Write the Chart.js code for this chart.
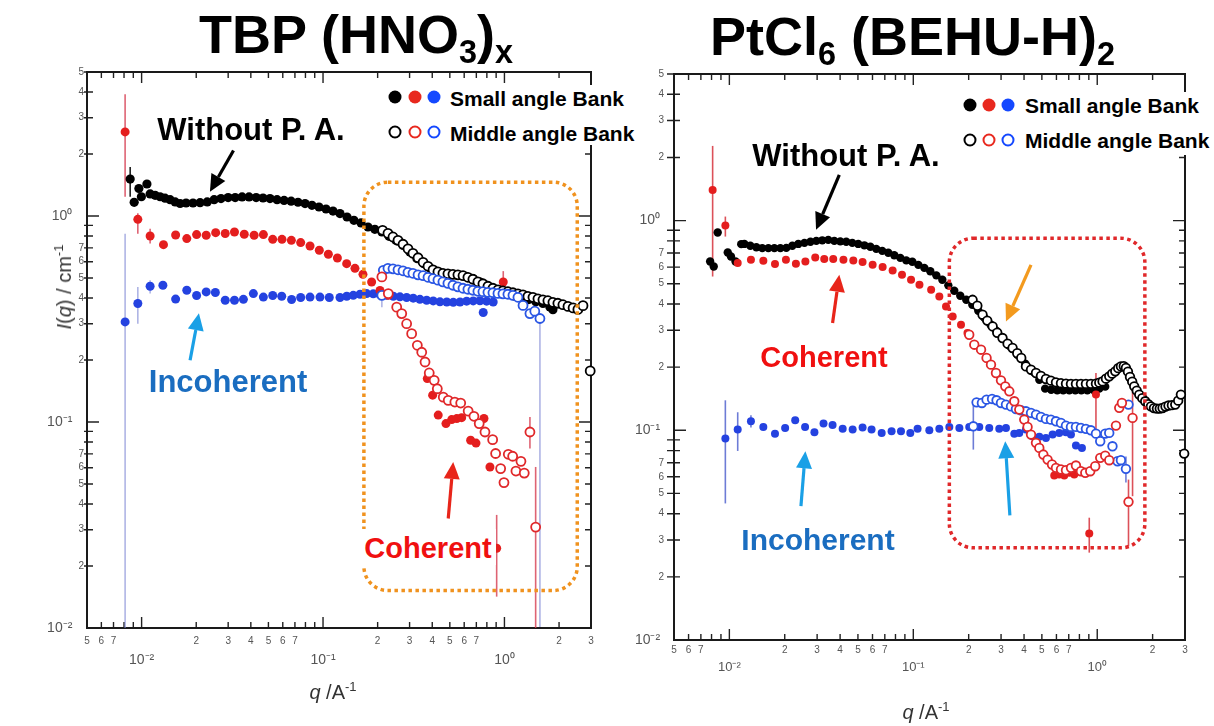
<!DOCTYPE html>
<html><head><meta charset="utf-8">
<script src="https://cdn.jsdelivr.net/npm/chart.js@4.4.1/dist/chart.umd.min.js"></script>
<style>
html,body{margin:0;padding:0;background:#fff;}
#wrap{position:relative;width:1214px;height:726px;overflow:hidden;font-family:'Liberation Sans',Arial,sans-serif;background:#fff;}
canvas{position:absolute;left:0;top:0;}
.title{position:absolute;font-weight:bold;font-size:54px;line-height:1;white-space:nowrap;color:#000;}
.title sub{font-size:0.6em;line-height:0;vertical-align:-0.3em;}
.t{position:absolute;white-space:nowrap;line-height:1;transform:translate(-50%,-50%);font-weight:bold;}
.lg{position:absolute;white-space:nowrap;line-height:1;transform:translateY(-50%);font-weight:bold;font-size:21px;color:#000;}
.lgbg{position:absolute;background:#fff;}
.d{position:absolute;width:13px;height:13px;border-radius:50%;transform:translate(-50%,-50%);box-sizing:border-box;}
.o{border:2.8px solid #000;background:#fff;}
.ax{position:absolute;white-space:nowrap;line-height:1;transform:translate(-50%,-50%);font-size:20px;color:#333;}
.ax sup{font-size:0.65em;line-height:0;}
</style></head><body>
<div id="wrap">
<canvas id="c1" width="1214" height="726"></canvas>
<canvas id="c2" width="1214" height="726"></canvas>

<div class="title" style="left:199px;top:7px">TBP (HNO<sub>3</sub>)<sub>x</sub></div>
<div class="title" style="left:710px;top:9px">PtCl<sub>6</sub> (BEHU-H)<sub>2</sub></div>

<!-- left legend -->
<div class="lgbg" style="left:386px;top:85px;width:254px;height:60px"></div>
<div class="d" style="left:395px;top:97px;background:#000"></div>
<div class="d" style="left:415px;top:97px;background:#E8281E"></div>
<div class="d" style="left:434px;top:97px;background:#1448FF"></div>
<div class="lg" style="left:450px;top:98px">Small angle Bank</div>
<div class="d o" style="left:395px;top:132px;border-color:#000"></div>
<div class="d o" style="left:415px;top:132px;border-color:#E8281E"></div>
<div class="d o" style="left:434px;top:132px;border-color:#1448FF"></div>
<div class="lg" style="left:450px;top:133px">Middle angle Bank</div>

<!-- right legend -->
<div class="lgbg" style="left:961px;top:92px;width:253px;height:63px"></div>
<div class="d" style="left:970px;top:105px;background:#000"></div>
<div class="d" style="left:989px;top:105px;background:#E8281E"></div>
<div class="d" style="left:1008px;top:105px;background:#1448FF"></div>
<div class="lg" style="left:1025px;top:105px">Small angle Bank</div>
<div class="d o" style="left:970px;top:140px;border-color:#000"></div>
<div class="d o" style="left:989px;top:140px;border-color:#E8281E"></div>
<div class="d o" style="left:1008px;top:140px;border-color:#1448FF"></div>
<div class="lg" style="left:1025px;top:140px">Middle angle Bank</div>

<!-- annotations left -->
<div class="t" style="left:251px;top:129px;font-size:31px;color:#000">Without P. A.</div>
<div class="t" style="left:228px;top:381px;font-size:31px;color:#1A6DC0">Incoherent</div>
<div style="position:absolute;left:362px;top:529px;width:134px;height:36px;background:#fff;"></div>
<div class="t" style="left:428px;top:548px;font-size:29px;color:#F01010">Coherent</div>

<!-- annotations right -->
<div class="t" style="left:846px;top:155px;font-size:31px;color:#000">Without P. A.</div>
<div class="t" style="left:824px;top:357px;font-size:29px;color:#F01010">Coherent</div>
<div class="t" style="left:818px;top:540px;font-size:30px;color:#1A6DC0">Incoherent</div>

<!-- axis titles -->
<div class="ax" style="left:333px;top:692px"><i>q</i> /A<sup>-1</sup></div>
<div class="ax" style="left:926px;top:712px"><i>q</i> /A<sup>-1</sup></div>
<div class="ax" style="left:64px;top:287px;transform:translate(-50%,-50%) rotate(-90deg);font-size:20px"><i>I</i>(<i>q</i>) / cm<sup>-1</sup></div>
</div>

<script>
// ---------------- tick values / labels ----------------
const xTicks = [0.005,0.006,0.007,0.008,0.009,0.01,0.02,0.03,0.04,0.05,0.06,0.07,0.08,0.09,0.1,0.2,0.3,0.4,0.5,0.6,0.7,0.8,0.9,1,2,3];
const xTickLabels = ['5','6','7','','','10\u207B\u00B2','2','3','4','5','6','7','','','10\u207B\u00B9','2','3','4','5','6','7','','','10\u2070','2','3'];
const yTicks = [0.01,0.02,0.03,0.04,0.05,0.06,0.07,0.08,0.09,0.1,0.2,0.3,0.4,0.5,0.6,0.7,0.8,0.9,1,2,3,4,5];
const yTickLabels = ['10\u207B\u00B2','2','3','4','5','6','7','','','10\u207B\u00B9','2','3','4','5','6','7','','','10\u2070','2','3','4','5'];

// ---------------- TBP (HNO3)x : [q, I] ----------------
const tbpBlackSmall = [[0.00865,1.51],[0.0091,1.165],[0.00966,1.36],[0.00997,1.24],[0.0107,1.43],
[0.01114,1.28],[0.01187,1.26],[0.01264,1.24],[0.01346,1.22],[0.01435,1.20],[0.0153,1.17],[0.0163,1.15],[0.01758,1.156],[0.0192,1.156],[0.021,1.16],[0.023,1.17],[0.0251,1.2],[0.0274,1.215],[0.03,1.228],[0.0328,1.228],[0.0358,1.237],[0.0391,1.237],[0.0428,1.228],[0.0467,1.223],[0.051,1.215],[0.0558,1.2],[0.061,1.19],[0.0667,1.18],[0.0728,1.166],[0.0796,1.149],[0.0869,1.127],[0.095,1.106],[0.1039,1.081],[0.1135,1.057],[0.124,1.027],[0.1356,0.989],[0.148,0.953],[0.162,0.925],[0.177,0.884],[0.193,0.862],[0.211,0.836],[0.231,0.797],[0.252,0.762],[0.2755,0.721],[0.301,0.669],[0.329,0.621],[0.36,0.587],[0.393,0.555],[0.43,0.535],[0.47,0.525],[0.514,0.519],[0.561,0.515],[0.614,0.51],[0.67,0.497],[0.733,0.478],[0.8,0.461],[0.875,0.444],[0.956,0.428],[1.045,0.417],[1.14,0.408],[1.25,0.402],[1.36,0.393],[1.49,0.383],[1.63,0.376],[1.78,0.362],[1.85,0.351]];
const tbpBlackMid = [[0.213,0.852],[0.228,0.824],[0.243,0.791],[0.259,0.762],[0.276,0.729],[0.294,0.693],[0.313,0.659],[0.334,0.627],[0.356,0.596],[0.379,0.57],[0.404,0.548],[0.43,0.536],[0.458,0.527],[0.488,0.524],[0.52,0.521],[0.554,0.518],[0.591,0.513],[0.629,0.504],[0.67,0.493],[0.714,0.479],[0.761,0.469],[0.811,0.456],[0.864,0.446],[0.921,0.438],[0.981,0.433],[1.045,0.429],[1.114,0.424],[1.187,0.419],[1.265,0.414],[1.347,0.407],[1.436,0.403],[1.53,0.396],[1.63,0.392],[1.736,0.388],[1.85,0.381],[1.97,0.377],[2.1,0.371],[2.24,0.364],[2.39,0.358],[2.54,0.352],[2.71,0.367],[2.97,0.177]];
const tbpRedSmall = [[0.00811,2.56],[0.00953,0.963],[0.01114,0.80],[0.0132,0.726],[0.0154,0.809],[0.01774,0.777],[0.0201,0.812],[0.0227,0.806],[0.0256,0.83],[0.0289,0.822],[0.0325,0.836],[0.0368,0.815],[0.0417,0.806],[0.0469,0.812],[0.0528,0.77],[0.0594,0.77],[0.0669,0.762],[0.0753,0.743],[0.0848,0.715],[0.0954,0.682],[0.107,0.652],[0.12,0.625],[0.135,0.587],[0.15,0.557],[0.166,0.521],[0.1853,0.478],[0.206,0.435],[0.229,0.412],[0.3755,0.1625],[0.402,0.135],[0.4315,0.108],[0.476,0.0982],[0.512,0.1027],[0.546,0.1039],[0.581,0.105],[0.651,0.0815],[0.697,0.079],[0.771,0.104],[0.832,0.0605],[0.906,0.0244],[0.985,0.478]];
const tbpRedMid = [[0.211,0.506],[0.229,0.42],[0.2548,0.361],[0.2715,0.336],[0.289,0.30],[0.308,0.2685],[0.331,0.2357],[0.35,0.218],[0.365,0.1955],[0.385,0.173],[0.41,0.1593],[0.4265,0.145],[0.46,0.132],[0.49,0.1274],[0.533,0.125],[0.574,0.1236],[0.631,0.113],[0.679,0.1066],[0.726,0.0982],[0.781,0.0894],[0.861,0.0821],[0.894,0.0703],[0.953,0.0594],[0.994,0.0508],[1.05,0.0697],[1.11,0.0682],[1.157,0.0578],[1.233,0.0644],[1.286,0.0565],[1.382,0.0894],[1.486,0.0309]];
const tbpBlueSmall = [[0.00811,0.306],[0.00953,0.376],[0.01114,0.456],[0.0131,0.461],[0.0154,0.395],[0.01774,0.436],[0.0201,0.411],[0.0227,0.428],[0.0255,0.425],[0.0289,0.39],[0.0325,0.39],[0.0364,0.394],[0.0413,0.42],[0.0469,0.404],[0.0528,0.411],[0.0592,0.408],[0.0671,0.393],[0.0753,0.402],[0.0848,0.404],[0.0962,0.404],[0.1083,0.402],[0.124,0.402],[0.1351,0.408],[0.1468,0.412],[0.16,0.417],[0.174,0.42],[0.1892,0.419],[0.206,0.415],[0.2244,0.412],[0.244,0.408],[0.2655,0.405],[0.289,0.402],[0.3144,0.399],[0.342,0.394],[0.3726,0.39],[0.405,0.387],[0.441,0.383],[0.481,0.3825],[0.5224,0.381],[0.569,0.3825],[0.6189,0.386],[0.673,0.387],[0.733,0.388],[0.764,0.34],[0.798,0.386],[0.867,0.3825]];
const tbpBlueMid = [[0.211,0.412],[0.215,0.545],[0.228,0.557],[0.243,0.554],[0.259,0.548],[0.276,0.542],[0.294,0.533],[0.313,0.527],[0.334,0.518],[0.356,0.513],[0.379,0.504],[0.404,0.496],[0.43,0.488],[0.458,0.479],[0.488,0.471],[0.52,0.461],[0.554,0.453],[0.591,0.446],[0.629,0.441],[0.67,0.436],[0.714,0.431],[0.761,0.429],[0.811,0.426],[0.864,0.424],[0.921,0.421],[0.981,0.419],[1.045,0.417],[1.114,0.412],[1.187,0.403],[1.266,0.368],[1.382,0.336],[1.47,0.345],[1.569,0.318]];
// error bars: [q, low, high]
const tbpErrBlack = [[0.00865,1.24,1.73]];
const tbpErrRed = [[0.00811,1.24,3.9],[0.00953,0.82,1.03],[0.01114,0.735,0.866],[0.906,0.0142,0.0354],[0.985,0.43,0.54],[1.382,0.0743,0.1058],[1.486,0.005,0.0605]];
const tbpErrBlue = [[0.00811,0.005,0.82],[0.00953,0.30,0.452],[0.01114,0.42,0.487],[0.211,0.361,0.45],[1.569,0.0101,0.33]];

// ---------------- PtCl6 (BEHU-H)2 : [q, I] ----------------
const ptBlackSmall = [[0.00786,0.638],[0.00822,0.604],[0.00864,0.877],[0.0098,0.705],[0.0102,0.674],[0.0108,0.638],[0.0116,0.772],[0.01207,0.774],[0.013,0.758],[0.01402,0.746],[0.0151,0.739],[0.0163,0.739],[0.01757,0.739],[0.01894,0.739],[0.0204,0.741],[0.022,0.758],[0.0237,0.774],[0.0256,0.783],[0.0276,0.792],[0.0297,0.80],[0.032,0.805],[0.0345,0.809],[0.0372,0.80],[0.0401,0.796],[0.0432,0.792],[0.0466,0.783],[0.0502,0.774],[0.0542,0.762],[0.0584,0.75],[0.0629,0.733],[0.0678,0.717],[0.0731,0.702],[0.0788,0.683],[0.085,0.664],[0.0916,0.646],[0.0988,0.636],[0.1065,0.615],[0.1148,0.595],[0.1237,0.573],[0.1334,0.548],[0.1438,0.522],[0.155,0.491],[0.167,0.463],[0.18,0.438],[0.194,0.419],[0.2093,0.397],[0.2255,0.3715],[0.2432,0.344],[0.262,0.3205],[0.2826,0.2985],[0.305,0.2762],[0.3326,0.253],[0.3675,0.2293],[0.4063,0.2077],[0.449,0.1903],[0.4842,0.1743],[0.521,0.158],[0.562,0.156],[0.606,0.155],[0.653,0.155],[0.705,0.155],[0.76,0.155],[0.819,0.155],[0.883,0.155],[0.951,0.156],[1.026,0.158],[1.105,0.1615]];
const ptBlackMid = [[0.21,0.419],[0.2229,0.3925],[0.2379,0.3557],[0.2524,0.3334],[0.27,0.3128],[0.286,0.2918],[0.3055,0.2754],[0.3255,0.2588],[0.3465,0.2469],[0.3673,0.2332],[0.3862,0.2212],[0.4097,0.2017],[0.4365,0.1945],[0.4645,0.1876],[0.4943,0.1816],[0.526,0.1757],[0.56,0.1725],[0.5965,0.1693],[0.635,0.1678],[0.6763,0.1669],[0.7195,0.1663],[0.766,0.1663],[0.8155,0.1663],[0.868,0.1663],[0.924,0.1665],[0.984,0.1669],[1.026,0.1687],[1.069,0.1711],[1.115,0.1763],[1.162,0.1808],[1.206,0.1862],[1.253,0.191],[1.30,0.1978],[1.345,0.2017],[1.394,0.2022],[1.432,0.1983],[1.469,0.1903],[1.507,0.1796],[1.549,0.1706],[1.589,0.162],[1.64,0.1545],[1.692,0.148],[1.757,0.1423],[1.823,0.1375],[1.893,0.1333],[1.958,0.13],[2.034,0.1276],[2.111,0.1269],[2.187,0.1269],[2.265,0.1278],[2.35,0.1297],[2.44,0.1312],[2.546,0.1318],[2.655,0.1326],[2.755,0.1385],[2.85,0.148],[2.97,0.0774]];
const ptRedSmall = [[0.00811,1.40],[0.00951,0.947],[0.0111,0.627],[0.0131,0.65],[0.0153,0.643],[0.0177,0.62],[0.0203,0.65],[0.023,0.622],[0.0259,0.638],[0.0293,0.667],[0.0328,0.655],[0.0367,0.655],[0.0417,0.65],[0.0472,0.645],[0.053,0.634],[0.0601,0.615],[0.0681,0.60],[0.0772,0.578],[0.0868,0.551],[0.0972,0.522],[0.108,0.494],[0.125,0.468],[0.1385,0.435],[0.1506,0.3895],[0.1637,0.349],[0.1817,0.3186],[0.197,0.291],[0.5838,0.0608],[0.6216,0.0615],[0.662,0.0608],[0.705,0.0627],[0.75,0.0615],[0.798,0.0638],[0.905,0.0322],[0.984,0.148]];
const ptRedMid = [[0.2014,0.2855],[0.2146,0.256],[0.2335,0.2423],[0.2502,0.2213],[0.2645,0.2056],[0.2815,0.1876],[0.2997,0.173],[0.3163,0.162],[0.3326,0.1534],[0.354,0.1375],[0.3768,0.1255],[0.401,0.1125],[0.418,0.1038],[0.4365,0.0954],[0.4645,0.0871],[0.4842,0.0824],[0.5093,0.0766],[0.537,0.0725],[0.5676,0.0687],[0.5965,0.0662],[0.6352,0.065],[0.6763,0.0645],[0.7201,0.0662],[0.766,0.0679],[0.8155,0.0638],[0.861,0.0627],[0.916,0.0638],[0.975,0.0674],[1.038,0.0739],[1.105,0.0757],[1.162,0.072],[1.264,0.1053],[1.317,0.128],[1.362,0.135],[1.556,0.1146],[1.479,0.0456]];
const ptBlueSmall = [[0.00951,0.0913],[0.0111,0.1008],[0.0131,0.1104],[0.0153,0.1038],[0.0177,0.0964],[0.0201,0.1026],[0.0228,0.1116],[0.0258,0.1038],[0.029,0.0978],[0.0325,0.1076],[0.0364,0.1061],[0.0413,0.1016],[0.0468,0.1008],[0.053,0.103],[0.0593,0.1008],[0.0673,0.0972],[0.0762,0.0989],[0.0857,0.0989],[0.0963,0.0972],[0.1055,0.1016],[0.1222,0.100],[0.1385,0.1016],[0.157,0.1038],[0.178,0.1026],[0.2014,0.1038],[0.2284,0.1038],[0.2588,0.1026],[0.2933,0.1016],[0.319,0.1026],[0.354,0.0964],[0.3768,0.0972],[0.4097,0.1008],[0.4449,0.0936],[0.4842,0.0931],[0.526,0.092],[0.572,0.0954],[0.6216,0.0972],[0.676,0.0978],[0.7195,0.0954],[0.766,0.0846],[0.8257,0.0824]];
const ptBlueMid = [[0.212,0.1045],[0.2208,0.1359],[0.236,0.135],[0.2502,0.14],[0.268,0.1411],[0.2836,0.139],[0.2997,0.135],[0.319,0.1326],[0.3398,0.13],[0.3615,0.1264],[0.3847,0.1246],[0.4097,0.1232],[0.4365,0.121],[0.4645,0.1188],[0.4943,0.1158],[0.526,0.1133],[0.56,0.1124],[0.5965,0.1104],[0.635,0.1084],[0.676,0.1053],[0.7195,0.1038],[0.766,0.1038],[0.8155,0.1026],[0.868,0.1016],[0.924,0.1],[0.984,0.0964],[1.038,0.0887],[1.105,0.0964],[1.162,0.0972],[1.21,0.0839],[1.289,0.0712],[1.345,0.072],[1.432,0.0655],[1.479,0.1326]];
const ptErrRed = [[0.00811,0.541,2.27],[0.00951,0.839,1.045],[0.984,0.1008,0.1876],[0.905,0.0261,0.0383],[1.556,0.0485,0.162],[1.479,0.028,0.0582]];
const ptErrBlue = [[0.00951,0.0448,0.139],[0.0111,0.0797,0.1219],[0.0131,0.103,0.118],[0.212,0.0809,0.1375],[1.432,0.0564,0.075]];

// ---------------- helpers ----------------
const FONT = "'Liberation Sans', Arial, sans-serif";
const isMajor = l => typeof l === 'string' && l.indexOf('10') === 0;
const pts = arr => arr.map(p => ({x: p[0], y: p[1]}));

function drawArrow(ctx, x1, y1, x2, y2, color, w, hl, hw) {
  const a = Math.atan2(y2 - y1, x2 - x1);
  const bx = x2 - hl * Math.cos(a), by = y2 - hl * Math.sin(a);
  ctx.strokeStyle = color; ctx.lineWidth = w; ctx.lineCap = 'butt';
  ctx.beginPath(); ctx.moveTo(x1, y1); ctx.lineTo(bx, by); ctx.stroke();
  ctx.fillStyle = color; ctx.beginPath(); ctx.moveTo(x2, y2);
  ctx.lineTo(bx + hw * Math.sin(a), by - hw * Math.cos(a));
  ctx.lineTo(bx - hw * Math.sin(a), by + hw * Math.cos(a));
  ctx.closePath(); ctx.fill();
}

function makePlugin(cfg) {
  return {
    id: 'decor' + cfg.id,
    beforeDatasetsDraw(chart) {
      const {ctx, chartArea: a, scales: {x, y}} = chart;
      ctx.save();
      ctx.strokeStyle = '#222'; ctx.lineWidth = 1.4;
      xTicks.forEach((v, i) => {
        const p = x.getPixelForValue(v); const len = isMajor(xTickLabels[i]) ? 11 : 6;
        ctx.beginPath(); ctx.moveTo(p, a.bottom); ctx.lineTo(p, a.bottom - len);
        ctx.moveTo(p, a.top); ctx.lineTo(p, a.top + len); ctx.stroke();
      });
      yTicks.forEach((v, i) => {
        const p = y.getPixelForValue(v); const maj = isMajor(yTickLabels[i]); const len = maj ? 12 : 6;
        ctx.beginPath(); ctx.moveTo(a.left, p); ctx.lineTo(a.left + len, p);
        ctx.moveTo(a.right, p); ctx.lineTo(a.right - len, p);
        if (!maj) { ctx.moveTo(a.left, p); ctx.lineTo(a.left - cfg.outTick, p); }
        ctx.stroke();
      });
      ctx.lineWidth = 2; ctx.strokeStyle = '#1a1a1a';
      ctx.strokeRect(a.left, a.top, a.right - a.left, a.bottom - a.top);
      ctx.beginPath(); ctx.rect(a.left, a.top, a.right - a.left, a.bottom - a.top); ctx.clip();
      cfg.errors.forEach(e => {
        ctx.strokeStyle = e.color; ctx.lineWidth = 1.6;
        e.data.forEach(d => {
          const px = x.getPixelForValue(d[0]);
          ctx.beginPath(); ctx.moveTo(px, y.getPixelForValue(d[1])); ctx.lineTo(px, y.getPixelForValue(d[2])); ctx.stroke();
        });
      });
      ctx.restore();
    },
    afterDatasetsDraw(chart) {
      const {ctx, scales: {x, y}} = chart;
      ctx.save();
      cfg.boxes.forEach(b => {
        const l = x.getPixelForValue(b.q0), r = x.getPixelForValue(b.q1);
        const t = y.getPixelForValue(b.i1), bt = y.getPixelForValue(b.i0);
        ctx.strokeStyle = b.color; ctx.lineWidth = 3.5; ctx.setLineDash([3.5, 3.5]);
        ctx.beginPath(); ctx.roundRect(l, t, r - l, bt - t, 24); ctx.stroke();
      });
      ctx.setLineDash([]);
      cfg.arrows.forEach(ar => {
        drawArrow(ctx, x.getPixelForValue(ar.from[0]), y.getPixelForValue(ar.from[1]),
                  x.getPixelForValue(ar.to[0]), y.getPixelForValue(ar.to[1]), ar.color, 3.2, 17, 8);
      });
      ctx.restore();
    }
  };
}

function filled(label, arr, color, r) {
  return {label, data: pts(arr), showLine: false, pointRadius: r, pointBackgroundColor: color, pointBorderColor: color, pointBorderWidth: 0, clip: false};
}
function open(label, arr, color, r) {
  return {label, data: pts(arr), showLine: false, pointRadius: r, pointBackgroundColor: '#fff', pointBorderColor: color, pointBorderWidth: 1.8, clip: false};
}

function makeChart(canvasId, cfg, datasets) {
  return new Chart(document.getElementById(canvasId), {
    type: 'scatter',
    data: {datasets},
    options: {
      responsive: false, animation: false, devicePixelRatio: 1, events: [],
      layout: {padding: cfg.padding},
      plugins: {legend: {display: false}, tooltip: {enabled: false}, title: {display: false}},
      scales: {
        x: {type: 'logarithmic', position: 'bottom', min: 0.005, max: 3,
          afterFit: s => { s.height = 50; },
          afterBuildTicks: s => { s.ticks = xTicks.map(v => ({value: v})); },
          grid: {display: false, drawTicks: false, tickLength: 0}, border: {display: false},
          ticks: {autoSkip: false, maxRotation: 0, minRotation: 0, padding: cfg.xPad, color: '#555',
            font: c => ({family: FONT, size: isMajor(xTickLabels[c.index]) ? cfg.xMaj : 10}),
            callback: (v, i) => isMajor(xTickLabels[i]) ? ['', xTickLabels[i]] : xTickLabels[i]}
        },
        y: {type: 'logarithmic', position: 'left', min: 0.01, max: 5,
          afterFit: s => { s.width = 40; },
          afterBuildTicks: s => { s.ticks = yTicks.map(v => ({value: v})); },
          grid: {display: false, drawTicks: false, tickLength: 0}, border: {display: false},
          ticks: {autoSkip: false, padding: cfg.yPad, color: '#555',
            font: c => ({family: FONT, size: isMajor(yTickLabels[c.index]) ? 14 : 10}),
            callback: (v, i) => isMajor(yTickLabels[i]) ? yTickLabels[i] + cfg.majTrail : yTickLabels[i]}
        }
      }
    },
    plugins: [makePlugin(cfg)]
  });
}

const RED = '#E41E1E', BLUE = '#2442E0', REDO = '#E0282A', BLUEO = '#2A56E4';

makeChart('c1', {
  id: 1, padding: {left: 47, right: 623, top: 72, bottom: 48}, xPad: 7, xMaj: 14, yPad: 3, majTrail: '   ', outTick: 3,
  errors: [{data: tbpErrBlack, color: '#222'}, {data: tbpErrRed, color: 'rgba(214,60,80,0.8)'}, {data: tbpErrBlue, color: 'rgba(120,130,210,0.6)'}],
  boxes: [{q0: 0.168, q1: 2.52, i0: 0.0152, i1: 1.46, color: '#F0921E'}],
  arrows: [
    {from: [0.0321, 2.08], to: [0.0238, 1.31], color: '#000'},
    {from: [0.0185, 0.1995], to: [0.0207, 0.337], color: '#1AA0E6'},
    {from: [0.49, 0.034], to: [0.522, 0.064], color: '#E8251A'}
  ]
}, [
  open('Middle (coherent)', tbpRedMid, REDO, 4.5),
  open('Middle (incoherent)', tbpBlueMid, BLUEO, 4.5),
  open('Middle (without P.A.)', tbpBlackMid, '#000', 4.5),
  filled('Small (coherent)', tbpRedSmall, RED, 4.5),
  filled('Small (incoherent)', tbpBlueSmall, BLUE, 4.5),
  filled('Small (without P.A.)', tbpBlackSmall, '#000', 4.6)
]);

makeChart('c2', {
  id: 2, padding: {left: 634, right: 29, top: 74, bottom: 36}, xPad: 4, xMaj: 13, yPad: 10, majTrail: ' ', outTick: 7,
  errors: [{data: ptErrRed, color: 'rgba(214,50,60,0.85)'}, {data: ptErrBlue, color: 'rgba(60,80,200,0.75)'}],
  boxes: [{q0: 0.157, q1: 1.815, i0: 0.0275, i1: 0.824, color: '#E0282A'}],
  arrows: [
    {from: [0.0396, 1.65], to: [0.0296, 0.903], color: '#000'},
    {from: [0.0364, 0.3245], to: [0.0396, 0.551], color: '#E8251A'},
    {from: [0.0245, 0.0435], to: [0.0259, 0.0794], color: '#1AA0E6'},
    {from: [0.335, 0.0393], to: [0.316, 0.0887], color: '#1AA0E6'},
    {from: [0.4365, 0.615], to: [0.319, 0.330], color: '#F39A1E'}
  ]
}, [
  open('Middle (coherent)', ptRedMid, REDO, 4.3),
  open('Middle (incoherent)', ptBlueMid, BLUEO, 4.3),
  open('Middle (without P.A.)', ptBlackMid, '#000', 4.3),
  filled('Small (coherent)', ptRedSmall, RED, 4),
  filled('Small (incoherent)', ptBlueSmall, BLUE, 4),
  filled('Small (without P.A.)', ptBlackSmall, '#000', 4.2)
]);
</script>
</body></html>
